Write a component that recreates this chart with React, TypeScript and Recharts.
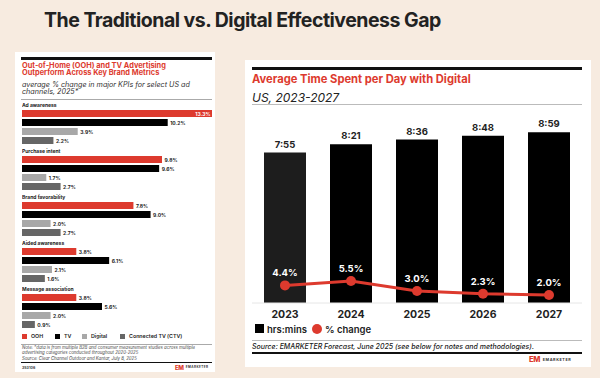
import React from "react";
import {
  BarChart, Bar, ComposedChart, Line, XAxis, YAxis, LabelList, Cell,
} from "recharts";

// left panel: average % change in KPIs by channel
const metrics = ["Ad awareness", "Purchase intent", "Brand favorability", "Aided awareness", "Message association"];
const oohValues = [13.3, 9.8, 7.8, 3.8, 3.8];
const tvValues = [10.2, 9.6, 9.0, 6.1, 5.6];
const digitalValues = [3.9, 1.7, 2.0, 2.1, 2.0];
const ctvValues = [2.2, 2.7, 2.7, 1.6, 0.9];

// right panel: time spent with digital
const years = ["2023", "2024", "2025", "2026", "2027"];
const minutesPerDay = [475, 501, 516, 528, 539];
const pctChange = [4.4, 5.5, 3.0, 2.3, 2.0];

const RED = "#dd3a2e";
const BG = "#f7ebe0";

const channels = [
  { key: "ooh", name: "OOH", color: RED },
  { key: "tv", name: "TV", color: "#000000" },
  { key: "digital", name: "Digital", color: "#a8a8a8" },
  { key: "ctv", name: "Connected TV (CTV)", color: "#666666" },
];

const kpiRows = metrics.map((metric, i) => ({
  metric,
  ooh: oohValues[i],
  tv: tvValues[i],
  digital: digitalValues[i],
  ctv: ctvValues[i],
}));

const timeRows = years.map((year, i) => ({ year, minutes: minutesPerDay[i], pct: pctChange[i] }));

const KPI_MAX = Math.max(...oohValues, ...tvValues);

const fmtTime = (m: number) => `${Math.floor(m / 60)}:${String(m % 60).padStart(2, "0")}`;

// metric name sits above the first bar of each group
const MetricLabel = (props: any) => {
  const { x, y, value } = props;
  return (
    <text x={x} y={y - 2.6} fontSize={5} fontWeight={700} fill="#222" fontFamily="Inter">
      {value}
    </text>
  );
};

const KpiLabel = (props: any) => {
  const { x, y, width, height, value } = props;
  const inside = value >= KPI_MAX;
  return (
    <text
      x={inside ? x + width - 1.5 : x + width + 2.5}
      y={y + height / 2}
      dominantBaseline="central"
      textAnchor={inside ? "end" : "start"}
      fontSize={5}
      fontWeight={700}
      fill={inside ? "#fff" : "#222"}
      fontFamily="Inter"
    >
      {value.toFixed(1)}%
    </text>
  );
};

const abs = (left: number, top: number, extra: React.CSSProperties = {}): React.CSSProperties => ({
  position: "absolute", left, top, ...extra,
});

const Logo = ({ left, top, scale }: { left: number; top: number; scale: number }) => (
  <div style={abs(left, top, { display: "flex", alignItems: "center", gap: 3 * scale })}>
    <span style={{ color: RED, fontWeight: 800, fontSize: 8 * scale, letterSpacing: -0.5 * scale, lineHeight: 1 }}>EM</span>
    <span style={{ color: "#333", fontWeight: 700, fontSize: 4 * scale, letterSpacing: 0.6 * scale, lineHeight: 1 }}>EMARKETER</span>
  </div>
);

export default function App() {
  return (
    <div style={{ position: "absolute", left: 0, top: 0, width: 600, height: 378, background: BG, overflow: "hidden", fontFamily: "Inter, sans-serif", color: "#222" }}>
      <div style={abs(44, 8, { fontSize: 19.5, lineHeight: "24px", fontWeight: 700, letterSpacing: -0.5, color: "#222", whiteSpace: "nowrap" })}>
        The Traditional vs. Digital Effectiveness Gap
      </div>

      {/* left card */}
      <div style={abs(15, 52, { width: 200, height: 320, background: "#fff" })} />
      <div style={abs(21, 57, { width: 191, height: 2.5, background: "#111" })} />
      <div style={abs(22, 61.5, { fontSize: 7.4, lineHeight: "7.8px", fontWeight: 700, color: RED, whiteSpace: "nowrap" })}>
        Out-of-Home (OOH) and TV Advertising<br />Outperform Across Key Brand Metrics
      </div>
      <div style={abs(22, 80.5, { fontSize: 7.2, lineHeight: "7.6px", fontStyle: "italic", color: "#333", whiteSpace: "nowrap" })}>
        average % change in major KPIs for select US ad<br />channels, 2025*
      </div>
      <div style={abs(21, 98.5, { width: 191, height: 0.8, background: "#aaa" })} />

      <div style={abs(22, 96)}>
        <BarChart layout="vertical" width={196} height={238} data={kpiRows}
          margin={{ top: 8, right: 6, bottom: 0, left: 0 }} barGap={2} barSize={7}>
          <XAxis type="number" domain={[0, KPI_MAX]} hide />
          <YAxis type="category" dataKey="metric" hide />
          {channels.map((c, i) => (
            <Bar key={c.key} dataKey={c.key} name={c.name} fill={c.color} isAnimationActive={false}>
              <LabelList dataKey={c.key} content={<KpiLabel />} />
              {i === 0 && <LabelList dataKey="metric" content={<MetricLabel />} />}
            </Bar>
          ))}
        </BarChart>
      </div>

      <div style={abs(22, 333, { display: "flex", fontSize: 5.3, lineHeight: "6px", fontWeight: 600, color: "#222", whiteSpace: "nowrap" })}>
        {channels.map((c, i) => (
          <div key={c.key} style={{ display: "flex", alignItems: "center", width: [33, 27, 38, 70][i] }}>
            <span style={{ width: 5, height: 5, background: c.color, marginRight: 4, flexShrink: 0 }} />
            {c.name}
          </div>
        ))}
      </div>
      <div style={abs(21, 344, { width: 191, height: 0.8, background: "#aaa" })} />
      <div style={abs(22, 345.2, { fontSize: 4.3, lineHeight: "5.3px", fontStyle: "italic", color: "#444", whiteSpace: "nowrap" })}>
        Note: *data is from multiple B2B and consumer measurement studies across multiple<br />
        advertising categories conducted throughout 2020-2025<br />
        Source: Clear Channel Outdoor and Kantar, July 8, 2025
      </div>
      <div style={abs(21, 361.5, { width: 191, height: 1.3, background: "#111" })} />
      <div style={abs(22, 366, { fontSize: 3.6, lineHeight: "4px", fontWeight: 700, color: "#444" })}>353106</div>
      <Logo left={175} top={364.5} scale={0.75} />

      {/* right card */}
      <div style={abs(245, 60, { width: 346, height: 307, background: "#fff" })} />
      <div style={abs(252, 67, { width: 330, height: 3, background: "#111" })} />
      <div style={abs(252, 73, { fontSize: 11.2, lineHeight: "13px", fontWeight: 700, color: RED, whiteSpace: "nowrap" })}>
        Average Time Spent per Day with Digital
      </div>
      <div style={abs(252, 91, { fontSize: 12, lineHeight: "14px", fontStyle: "italic", color: "#222", whiteSpace: "nowrap" })}>
        US, 2023-2027
      </div>
      <div style={abs(252, 104, { width: 330, height: 1, background: "#bbb" })} />

      <div style={abs(252, 93)}>
        <ComposedChart width={330} height={240} data={timeRows} margin={{ top: 20, right: 0, bottom: 0, left: 0 }}>
          <XAxis dataKey="year" height={30} tickLine={false} axisLine={{ stroke: "#e6e6e6" }}
            tick={{ fontSize: 10.5, fontWeight: 700, fill: "#222", fontFamily: "Inter" }} />
          <YAxis yAxisId="time" domain={[0, 600]} hide />
          <YAxis yAxisId="pct" orientation="right" domain={[0, 47.5]} hide />
          <Bar yAxisId="time" dataKey="minutes" barSize={42} isAnimationActive={false}>
            {timeRows.map((_, i) => <Cell key={i} fill={i === 0 ? "#1d1d1d" : "#000"} />)}
            <LabelList dataKey="minutes" position="top" offset={5} formatter={(v: any) => fmtTime(Number(v))}
              style={{ fontSize: 9.5, fontWeight: 700, fill: "#222", fontFamily: "Inter" }} />
          </Bar>
          <Line yAxisId="pct" type="linear" dataKey="pct" stroke={RED} strokeWidth={3}
            dot={{ r: 5, fill: RED, stroke: "none" }} isAnimationActive={false}>
            <LabelList dataKey="pct" position="top" offset={9} formatter={(v: any) => `${Number(v).toFixed(1)}%`}
              style={{ fontSize: 9.5, fontWeight: 700, fill: "#fff", fontFamily: "Inter" }} />
          </Line>
        </ComposedChart>
      </div>

      <div style={abs(255, 324, { width: 9, height: 9, background: "#000" })} />
      <div style={abs(267, 323.5, { fontSize: 9.5, lineHeight: "11px", fontWeight: 600, color: "#222" })}>hrs:mins</div>
      <div style={abs(312, 324, { width: 10, height: 10, borderRadius: 5, background: RED })} />
      <div style={abs(325, 323.5, { fontSize: 9.5, lineHeight: "11px", fontWeight: 600, color: "#222" })}>% change</div>
      <div style={abs(252, 340, { width: 330, height: 1, background: "#bbb" })} />
      <div style={abs(252, 343, { fontSize: 7, lineHeight: "8px", fontStyle: "italic", fontWeight: 500, color: "#222", whiteSpace: "nowrap" })}>
        Source: EMARKETER Forecast, June 2025 (see below for notes and methodologies).
      </div>
      <div style={abs(252, 351.5, { width: 330, height: 2, background: "#111" })} />
      <Logo left={529} top={356} scale={0.95} />
    </div>
  );
}
